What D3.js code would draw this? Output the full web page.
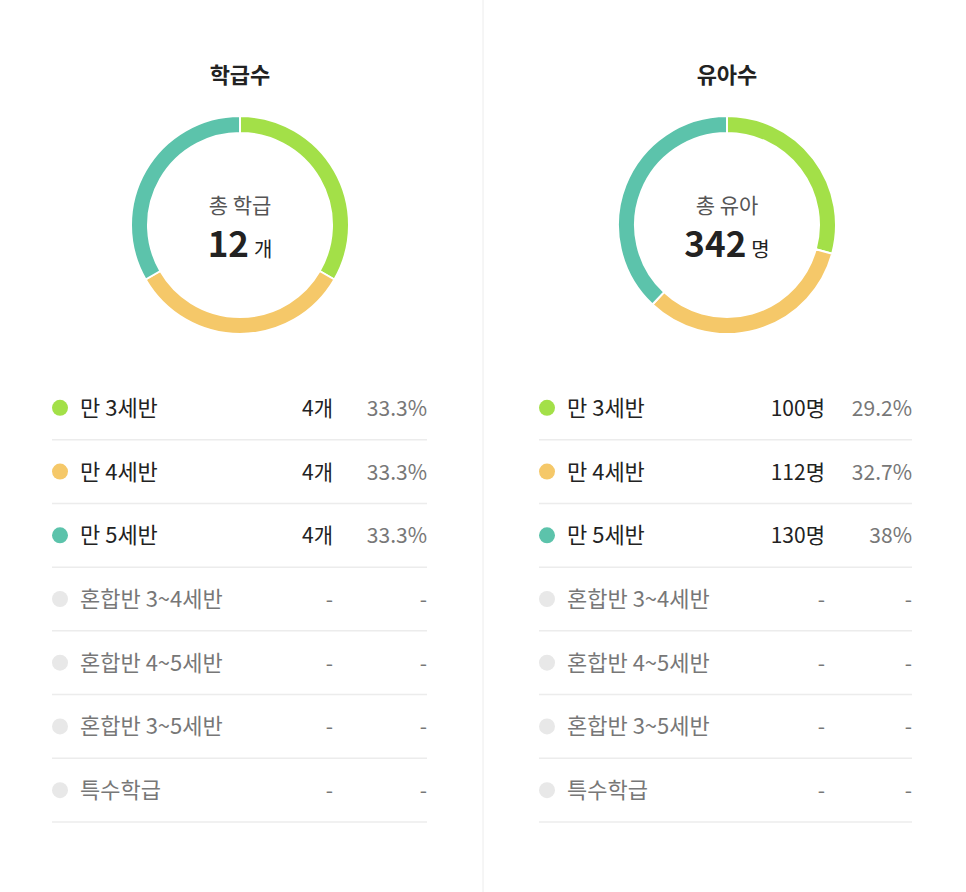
<!DOCTYPE html>
<html><head><meta charset="utf-8">
<script src="https://cdn.jsdelivr.net/npm/d3@7"></script>
<style>
body{margin:0;background:#fff;font-family:"Noto Sans CJK KR","Noto Sans",sans-serif;}
</style></head><body>
<svg id="chart" width="966" height="892"></svg>
<script>
const categories = ["만 3세반","만 4세반","만 5세반","혼합반 3~4세반","혼합반 4~5세반","혼합반 3~5세반","특수학급"];
const classCounts = [4,4,4,null,null,null,null];
const classPct = ["33.3%","33.3%","33.3%","-","-","-","-"];
const childCounts = [100,112,130,null,null,null,null];
const childPct = ["29.2%","32.7%","38%","-","-","-","-"];
const colors = ["#a3e048","#f5c869","#5cc3ab"];

const svg = d3.select("#chart");
svg.append("line").attr("x1",483).attr("x2",483).attr("y1",0).attr("y2",892)
  .attr("stroke","#ececec");

const panels = [
  {cx:240, title:"학급수", label:"총 학급", unit:"개", counts:classCounts, pct:classPct, x0:52, x1:427, cntX:333},
  {cx:727, title:"유아수", label:"총 유아", unit:"명", counts:childCounts, pct:childPct, x0:539, x1:912, cntX:825}
];

const pie = d3.pie().sort(null).value(d => d);
const arc = d3.arc().innerRadius(92).outerRadius(109);

panels.forEach(p => {
  const g = svg.append("g");
  g.append("text").attr("x",p.cx).attr("y",83).attr("text-anchor","middle")
    .attr("font-size",22).attr("font-weight","bold").attr("fill","#222").text(p.title);

  const donut = g.append("g").attr("transform",`translate(${p.cx},225)`);
  const vals = p.counts.filter(v => v != null);
  donut.selectAll("path").data(pie(vals)).enter().append("path")
    .attr("d", arc).attr("fill",(d,i) => colors[i])
    .attr("stroke","#fff").attr("stroke-width",2);

  donut.append("text").attr("y",-12).attr("text-anchor","middle")
    .attr("font-size",21).attr("fill","#555").text(p.label);
  const total = d3.sum(vals);
  const t = donut.append("text").attr("y",32).attr("text-anchor","middle");
  t.append("tspan").attr("font-size",35).attr("font-weight","bold").attr("fill","#222").text(total);
  t.append("tspan").attr("font-size",20).attr("fill","#222").attr("dx",5).text(p.unit);

  const y = d3.scaleBand().domain(d3.range(categories.length)).range([376,822]);
  categories.forEach((c,i) => {
    const yc = y(i) + y.bandwidth()/2;
    const active = p.counts[i] != null;
    g.append("circle").attr("cx",p.x0+8).attr("cy",yc).attr("r",8)
      .attr("fill", active ? colors[i] : "#e8e8e8");
    g.append("text").attr("x",p.x0+28).attr("y",yc+8).attr("font-size",22)
      .attr("fill", active ? "#222" : "#777").text(c);
    g.append("text").attr("x",p.cntX).attr("y",yc+8).attr("text-anchor","end").attr("font-size",21)
      .attr("fill", active ? "#222" : "#777").text(active ? p.counts[i] + p.unit : "-");
    g.append("text").attr("x",p.x1).attr("y",yc+8).attr("text-anchor","end").attr("font-size",21)
      .attr("fill","#777").text(p.pct[i]);
    g.append("line").attr("x1",p.x0).attr("x2",p.x1)
      .attr("y1",y(i)+y.bandwidth()).attr("y2",y(i)+y.bandwidth())
      .attr("stroke","#ececec").attr("stroke-width",1.5);
  });
});
</script></body></html>
